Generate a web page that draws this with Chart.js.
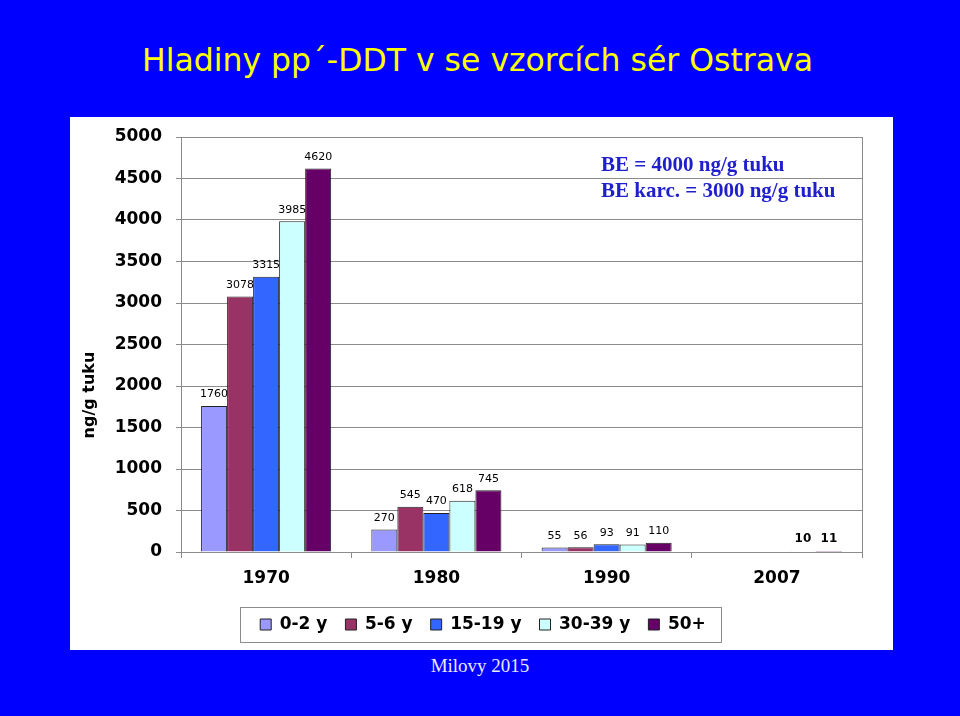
<!DOCTYPE html>
<html>
<head>
<meta charset="utf-8">
<script src="https://cdn.jsdelivr.net/npm/chart.js@4"></script>
<style>
  body { margin: 0; background: #0000ff; width: 960px; height: 716px; overflow: hidden; position: relative; }
  #title { position: absolute; left: 0; top: 42px; width: 955px; text-align: center; color: #ffff00;
           font-family: "DejaVu Sans", sans-serif; font-size: 31.5px; white-space: nowrap; }
  #panel { position: absolute; left: 70px; top: 117px; width: 823px; height: 533px; background: #fff; }
  #footer { position: absolute; left: 0; top: 655px; width: 960px; text-align: center; color: #e8e8ff;
            font-family: "Liberation Serif", serif; font-size: 19px; }
</style>
</head>
<body>
<div id="title">Hladiny pp´-DDT v se vzorcích sér Ostrava</div>
<div id="panel"><canvas id="ddtChart"></canvas></div>
<div id="footer">Milovy 2015</div>
<script>
const years = ['1970', '1980', '1990', '2007'];
const groups = ['0-2 y', '5-6 y', '15-19 y', '30-39 y', '50+'];
const kids02 = [1760, 270, 55, null];
const kids56 = [3078, 545, 56, null];
const teens = [3315, 470, 93, null];
const adults3039 = [3985, 618, 91, 10];
const over50 = [4620, 745, 110, 11];
const yTicks = [0, 500, 1000, 1500, 2000, 2500, 3000, 3500, 4000, 4500, 5000];
const noteLines = ['BE = 4000 ng/g tuku', 'BE karc. = 3000 ng/g tuku'];

const colors = ['#9999ff', '#993366', '#3366ff', '#ccffff', '#660066'];
const series = [kids02, kids56, teens, adults3039, over50];

const sansBold = {family: 'DejaVu Sans', size: 17, weight: 'bold'};

// values on top of bars, axis title, note text, right border, legend frame
const extras = {
    id: 'extras',
    afterLayout(chart) {
        // legend sits a bit right of the canvas middle
        chart.legend.left += 17;
        chart.legend.right += 17;
    },
    afterDatasetsDraw(chart) {
        const ctx = chart.ctx;
        ctx.save();
        ctx.fillStyle = '#000';
        ctx.textAlign = 'center';
        ctx.textBaseline = 'bottom';
        chart.data.datasets.forEach((ds, i) => {
            chart.getDatasetMeta(i).data.forEach((bar, j) => {
                if (ds.data[j] == null) return;
                ctx.font = j == 3 ? 'bold 12px "DejaVu Sans"' : '11px "DejaVu Sans"';
                ctx.fillText(ds.data[j], bar.x, bar.y - 6);
            });
        });
        ctx.restore();
    },
    afterDraw(chart) {
        const ctx = chart.ctx;
        const area = chart.chartArea;
        ctx.save();

        // right border of plot
        ctx.strokeStyle = '#8c8c8c';
        ctx.lineWidth = 1;
        ctx.beginPath();
        ctx.moveTo(area.right + 0.5, area.top);
        ctx.lineTo(area.right + 0.5, area.bottom + 6);
        ctx.stroke();

        // legend frame
        const boxes = chart.legend.legendHitBoxes;
        if (boxes.length) {
            const left = Math.min(...boxes.map(b => b.left)) - 20;
            const right = Math.max(...boxes.map(b => b.left + b.width)) + 15;
            const mid = boxes[0].top + boxes[0].height / 2;
            ctx.strokeStyle = '#8c8c8c';
            ctx.strokeRect(Math.round(left) + 0.5, Math.round(mid - 17.5) + 0.5, Math.round(right - left), 35);
        }

        // y axis title
        ctx.fillStyle = '#000';
        ctx.font = 'bold 16px "DejaVu Sans"';
        ctx.textAlign = 'center';
        ctx.textBaseline = 'middle';
        ctx.translate(20, 278);
        ctx.rotate(-Math.PI / 2);
        ctx.fillText('ng/g tuku', 0, 0);
        ctx.setTransform(1, 0, 0, 1, 0, 0);

        // note
        ctx.fillStyle = '#1f1fcc';
        ctx.font = 'bold 21px "Liberation Serif"';
        ctx.textAlign = 'left';
        ctx.fillText(noteLines[0], 531, 49);
        ctx.fillText(noteLines[1], 531, 75);
        ctx.restore();
    }
};

const ctx = document.getElementById('ddtChart').getContext('2d');
new Chart(ctx, {
    type: 'bar',
    data: {
        labels: years,
        datasets: series.map((values, i) => ({
            label: groups[i],
            data: values,
            backgroundColor: colors[i],
            borderColor: '#222',
            borderWidth: 1,
            borderSkipped: 'bottom',
            categoryPercentage: 0.764,
            barPercentage: 1.0
        }))
    },
    options: {
        responsive: true,
        maintainAspectRatio: false,
        animation: false,
        devicePixelRatio: 1,
        layout: {padding: {top: 20, right: 31, bottom: 7, left: 0}},
        plugins: {
            tooltip: {enabled: false},
            legend: {
                position: 'bottom',
                labels: {
                    color: '#000',
                    font: sansBold,
                    boxWidth: 11,
                    boxHeight: 11,
                    padding: 18
                }
            }
        },
        scales: {
            x: {
                grid: {display: true, offset: true, drawOnChartArea: false, tickLength: 6, color: '#8c8c8c'},
                border: {color: '#8c8c8c'},
                ticks: {color: '#000', font: sansBold, padding: 10},
                afterFit(scale) { scale.height = 46; }
            },
            y: {
                min: 0,
                max: 5000,
                afterBuildTicks(scale) { scale.ticks = yTicks.map(v => ({value: v})); },
                grid: {color: '#8c8c8c', tickLength: 5},
                border: {color: '#8c8c8c'},
                ticks: {color: '#000', font: sansBold, padding: 14, callback: v => String(v)},
                afterFit(scale) {
                    scale.width = 111;
                    scale.paddingTop = 0;
                    scale.paddingBottom = 0;
                }
            }
        }
    },
    plugins: [extras]
});
</script>
</body>
</html>
